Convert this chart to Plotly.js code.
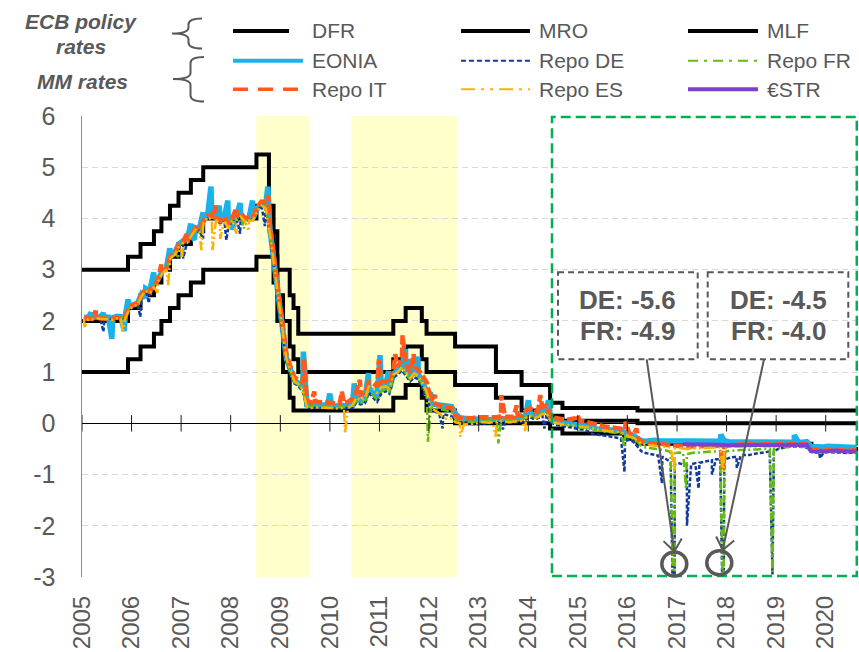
<!DOCTYPE html>
<html><head><meta charset="utf-8">
<script src="https://cdn.plot.ly/plotly-3.0.1.min.js"></script>
<style>html,body{margin:0;padding:0;background:#fff}#chart{width:859px;height:652px}</style>
</head><body><div id="chart"></div>
<script>
// ---------- ECB policy rates (change dates and levels, %) ----------
const dfrDates = ['2005-01-01','2005-12-06','2006-03-08','2006-06-15','2006-08-09','2006-10-11','2006-12-13','2007-03-14','2007-06-13','2008-07-09','2008-11-12','2008-12-10','2009-01-21','2009-03-11','2009-04-08','2011-04-13','2011-07-13','2011-11-09','2011-12-14','2012-07-11','2014-06-11','2014-09-10','2015-12-09','2016-03-16','2019-09-18','2020-08-31'];
const dfrVals  = [1.00,1.25,1.50,1.75,2.00,2.25,2.50,2.75,3.00,3.25,2.75,2.00,1.00,0.50,0.25,0.50,0.75,0.50,0.25,0.00,-0.10,-0.20,-0.30,-0.40,-0.50,-0.50];
const mroDates = ['2005-01-01','2005-12-06','2006-03-08','2006-06-15','2006-08-09','2006-10-11','2006-12-13','2007-03-14','2007-06-13','2008-07-09','2008-10-15','2008-11-12','2008-12-10','2009-01-21','2009-03-11','2009-04-08','2009-05-13','2011-04-13','2011-07-13','2011-11-09','2011-12-14','2012-07-11','2013-05-08','2013-11-13','2014-06-11','2014-09-10','2016-03-16','2020-08-31'];
const mroVals  = [2.00,2.25,2.50,2.75,3.00,3.25,3.50,3.75,4.00,4.25,3.75,3.25,2.50,2.00,1.50,1.25,1.00,1.25,1.50,1.25,1.00,0.75,0.50,0.25,0.15,0.05,0.00,0.00];
const mlfDates = ['2005-01-01','2005-12-06','2006-03-08','2006-06-15','2006-08-09','2006-10-11','2006-12-13','2007-03-14','2007-06-13','2008-07-09','2008-10-09','2008-11-12','2008-12-10','2009-03-11','2009-04-08','2009-05-13','2011-04-13','2011-07-13','2011-11-09','2011-12-14','2012-07-11','2013-05-08','2013-11-13','2014-06-11','2014-09-10','2016-03-16','2020-08-31'];
const mlfVals  = [3.00,3.25,3.50,3.75,4.00,4.25,4.50,4.75,5.00,5.25,4.25,3.75,3.00,2.50,2.25,1.75,2.00,2.25,2.00,1.75,1.50,1.00,0.75,0.40,0.30,0.25,0.25];

// ---------- Money-market rates: monthly readings (Jan 2005 - Aug 2020) ----------
const eoniaVals = [
 2.07,2.06,2.06,2.08,2.07,2.07,2.07,2.06,2.09,2.08,2.09,2.28,
 2.33,2.35,2.52,2.63,2.58,2.70,2.81,2.97,3.04,3.28,3.33,3.50,
 3.56,3.57,3.69,3.82,3.79,3.96,4.06,4.05,4.03,3.94,4.02,3.88,
 4.02,4.03,4.09,3.99,4.01,4.01,4.19,4.30,4.27,3.82,3.15,2.49,
 1.81,1.26,1.06,0.84,0.78,0.70,0.36,0.35,0.36,0.36,0.36,0.35,
 0.34,0.34,0.35,0.35,0.34,0.35,0.48,0.43,0.45,0.70,0.59,0.50,
 0.66,0.71,0.66,0.97,1.03,1.12,1.01,0.91,1.01,0.96,0.79,0.63,
 0.38,0.37,0.36,0.35,0.34,0.33,0.18,0.11,0.10,0.09,0.08,0.07,
 0.07,0.07,0.07,0.08,0.08,0.09,0.09,0.08,0.08,0.09,0.10,0.17,
 0.20,0.16,0.19,0.25,0.25,0.08,0.04,0.02,0.01,0.00,-0.01,-0.03,
 -0.05,-0.04,-0.05,-0.07,-0.11,-0.12,-0.12,-0.12,-0.14,-0.14,-0.13,-0.20,
 -0.24,-0.24,-0.29,-0.34,-0.35,-0.33,-0.33,-0.34,-0.34,-0.35,-0.35,-0.35,
 -0.36,-0.36,-0.35,-0.36,-0.36,-0.36,-0.36,-0.36,-0.36,-0.36,-0.35,-0.34,
 -0.36,-0.36,-0.36,-0.37,-0.36,-0.36,-0.36,-0.36,-0.37,-0.37,-0.36,-0.36,
 -0.37,-0.37,-0.37,-0.37,-0.37,-0.37,-0.37,-0.36,-0.45,-0.46,-0.45,-0.46,
 -0.45,-0.45,-0.45,-0.45,-0.46,-0.46,-0.46,-0.47];
const deVals = [
 2.05,2.04,2.03,2.05,2.04,2.04,2.05,2.03,2.06,2.05,2.06,2.24,
 2.30,2.32,2.49,2.60,2.55,2.67,2.78,2.94,3.01,3.25,3.30,3.46,
 3.53,3.54,3.66,3.79,3.76,3.93,4.03,4.00,3.98,3.90,3.97,3.82,
 3.98,3.99,4.05,3.95,3.97,3.97,4.15,4.26,4.20,3.70,3.05,2.40,
 1.75,1.20,1.00,0.78,0.72,0.62,0.30,0.30,0.31,0.31,0.31,0.30,
 0.29,0.29,0.30,0.30,0.29,0.30,0.40,0.37,0.39,0.60,0.50,0.42,
 0.58,0.63,0.58,0.90,0.95,1.03,0.93,0.82,0.90,0.86,0.68,0.50,
 0.25,0.22,0.20,0.18,0.16,0.14,0.02,0.00,-0.01,-0.01,-0.02,-0.02,
 -0.01,0.00,0.00,0.01,0.01,0.02,0.02,0.01,0.01,0.02,0.03,0.08,
 0.12,0.08,0.10,0.15,0.16,0.02,-0.02,-0.04,-0.06,-0.07,-0.08,-0.10,
 -0.12,-0.12,-0.15,-0.20,-0.22,-0.23,-0.24,-0.25,-0.27,-0.28,-0.30,-0.35,
 -0.32,-0.36,-0.45,-0.55,-0.58,-0.60,-0.62,-0.63,-0.65,-0.70,-0.76,-0.80,
 -0.78,-0.80,-0.82,-0.80,-0.78,-0.77,-0.75,-0.73,-0.72,-0.70,-0.70,-0.72,
 -0.68,-0.66,-0.65,-0.63,-0.62,-0.62,-0.60,-0.59,-0.58,-0.56,-0.55,-0.55,
 -0.50,-0.48,-0.46,-0.45,-0.45,-0.45,-0.46,-0.47,-0.56,-0.57,-0.57,-0.58,
 -0.56,-0.57,-0.57,-0.57,-0.58,-0.58,-0.57,-0.57];
const frVals = [
 2.06,2.05,2.05,2.07,2.06,2.06,2.06,2.05,2.08,2.07,2.08,2.25,
 2.31,2.33,2.50,2.61,2.56,2.68,2.79,2.95,3.02,3.26,3.31,3.47,
 3.54,3.55,3.67,3.80,3.77,3.94,4.04,4.02,4.00,3.92,3.99,3.85,
 4.00,4.01,4.07,3.97,3.99,3.99,4.17,4.28,4.23,3.75,3.10,2.44,
 1.78,1.22,1.03,0.80,0.75,0.66,0.33,0.32,0.33,0.33,0.33,0.32,
 0.31,0.31,0.32,0.32,0.31,0.32,0.44,0.40,0.42,0.65,0.55,0.46,
 0.62,0.67,0.62,0.93,0.99,1.07,0.97,0.86,0.96,0.91,0.74,0.57,
 0.32,0.30,0.28,0.26,0.25,0.23,0.08,0.04,0.03,0.03,0.02,0.02,
 0.03,0.04,0.04,0.05,0.05,0.06,0.06,0.05,0.05,0.06,0.07,0.12,
 0.16,0.12,0.15,0.20,0.21,0.05,0.01,-0.01,-0.02,-0.03,-0.04,-0.06,
 -0.08,-0.08,-0.09,-0.11,-0.14,-0.15,-0.16,-0.16,-0.18,-0.19,-0.20,-0.26,
 -0.28,-0.30,-0.36,-0.45,-0.47,-0.48,-0.49,-0.50,-0.51,-0.53,-0.56,-0.58,
 -0.57,-0.58,-0.60,-0.58,-0.57,-0.57,-0.56,-0.55,-0.55,-0.55,-0.54,-0.56,
 -0.54,-0.53,-0.53,-0.52,-0.52,-0.52,-0.51,-0.51,-0.50,-0.50,-0.50,-0.50,
 -0.48,-0.47,-0.46,-0.46,-0.45,-0.45,-0.46,-0.46,-0.55,-0.56,-0.56,-0.56,
 -0.55,-0.55,-0.56,-0.56,-0.56,-0.56,-0.56,-0.56];
const itVals = [
 2.05,2.05,2.04,2.06,2.05,2.05,2.06,2.04,2.07,2.06,2.08,2.26,
 2.32,2.34,2.51,2.62,2.57,2.69,2.80,2.96,3.03,3.27,3.32,3.49,
 3.55,3.56,3.68,3.81,3.78,3.95,4.05,4.06,4.02,3.95,4.03,3.90,
 4.03,4.04,4.10,4.00,4.02,4.03,4.22,4.33,4.32,3.90,3.25,2.55,
 1.90,1.35,1.12,0.90,0.85,0.80,0.45,0.40,0.42,0.42,0.40,0.40,
 0.40,0.38,0.40,0.40,0.42,0.48,0.62,0.55,0.60,0.80,0.78,0.72,
 0.80,0.82,0.78,1.05,1.10,1.25,1.15,1.00,1.10,1.05,0.92,0.80,
 0.45,0.38,0.35,0.33,0.32,0.30,0.15,0.10,0.10,0.09,0.10,0.12,
 0.12,0.12,0.10,0.11,0.12,0.14,0.13,0.12,0.13,0.15,0.16,0.25,
 0.30,0.22,0.25,0.32,0.35,0.12,0.10,0.08,0.08,0.07,0.08,0.10,
 0.05,0.04,0.02,0.00,-0.03,-0.05,-0.06,-0.07,-0.08,-0.08,-0.09,-0.12,
 -0.20,-0.22,-0.28,-0.36,-0.38,-0.38,-0.39,-0.40,-0.40,-0.42,-0.43,-0.45,
 -0.45,-0.45,-0.46,-0.45,-0.45,-0.44,-0.44,-0.44,-0.43,-0.44,-0.44,-0.46,
 -0.43,-0.42,-0.42,-0.42,-0.41,-0.40,-0.42,-0.41,-0.41,-0.41,-0.40,-0.42,
 -0.40,-0.40,-0.40,-0.40,-0.40,-0.40,-0.40,-0.41,-0.51,-0.52,-0.52,-0.52,
 -0.51,-0.51,-0.52,-0.52,-0.52,-0.53,-0.53,-0.53];
const esVals = [
 2.04,2.03,2.03,2.05,2.04,2.03,2.04,2.02,2.05,2.04,2.05,2.22,
 2.29,2.31,2.48,2.59,2.54,2.66,2.77,2.93,3.00,3.23,3.29,3.45,
 3.52,3.53,3.65,3.78,3.75,3.92,4.02,3.98,3.97,3.89,3.96,3.80,
 3.97,3.98,4.04,3.94,3.96,3.96,4.14,4.25,4.20,3.72,3.08,2.42,
 1.80,1.25,1.05,0.82,0.76,0.65,0.32,0.30,0.31,0.31,0.31,0.30,
 0.30,0.29,0.30,0.30,0.30,0.35,0.50,0.45,0.48,0.72,0.68,0.60,
 0.70,0.72,0.68,0.95,1.00,1.10,1.00,0.88,0.98,0.92,0.78,0.62,
 0.30,0.25,0.20,0.12,0.08,0.10,0.02,0.00,-0.02,-0.02,-0.01,0.00,
 0.02,0.02,0.01,0.02,0.03,0.04,0.03,0.02,0.03,0.04,0.05,0.10,
 0.15,0.10,0.12,0.18,0.20,0.04,0.01,-0.01,-0.02,-0.03,-0.04,-0.05,
 -0.06,-0.06,-0.07,-0.09,-0.12,-0.13,-0.14,-0.14,-0.16,-0.17,-0.18,-0.22,
 -0.26,-0.28,-0.33,-0.40,-0.42,-0.43,-0.44,-0.45,-0.45,-0.46,-0.47,-0.49,
 -0.48,-0.49,-0.50,-0.49,-0.49,-0.48,-0.48,-0.48,-0.47,-0.47,-0.47,-0.50,
 -0.46,-0.46,-0.46,-0.45,-0.45,-0.45,-0.45,-0.45,-0.44,-0.44,-0.44,-0.45,
 -0.43,-0.43,-0.43,-0.42,-0.42,-0.42,-0.42,-0.43,-0.52,-0.53,-0.53,-0.54,
 -0.53,-0.53,-0.53,-0.54,-0.54,-0.54,-0.55,-0.55];
// (pre-)€STR from Feb 2017
const estrStart = '2017-02-15';
const estrVals = [
 -0.41,-0.41,-0.42,-0.42,-0.42,-0.42,-0.42,-0.42,-0.42,-0.42,-0.43,
 -0.43,-0.42,-0.42,-0.42,-0.42,-0.42,-0.42,-0.42,-0.42,-0.42,-0.42,-0.43,
 -0.42,-0.42,-0.42,-0.42,-0.42,-0.42,-0.42,-0.42,-0.54,-0.55,-0.55,-0.55,
 -0.54,-0.54,-0.53,-0.54,-0.55,-0.55,-0.55,-0.55];

// ---------- Single-day spikes ----------
const eoniaSpikeDates = ['2005-03-08','2005-06-07','2005-08-09','2005-11-08','2005-12-06','2006-04-11','2006-06-13','2006-10-10','2007-03-13','2007-04-10','2007-06-12','2007-08-09','2007-10-09','2007-12-11','2008-01-15','2008-03-11','2008-06-10','2008-10-01','2009-06-20','2009-12-31','2010-06-30','2010-10-12','2011-01-05','2011-03-08','2011-07-12','2011-08-09','2011-10-11','2012-01-10','2014-01-02','2014-05-30','2017-11-20','2019-05-15'];
const eoniaSpikeVals  = [2.16,2.15,1.65,1.80,2.42,2.45,2.95,3.42,3.90,3.58,4.12,4.62,4.25,4.35,3.78,4.30,4.35,4.62,1.40,0.58,0.78,0.98,1.33,1.02,1.45,1.25,1.30,0.58,0.45,0.45,-0.22,-0.23];
const deSpikeDates = ['2005-06-08','2006-03-07','2006-05-09','2007-01-16','2007-06-12','2007-11-30','2008-03-11','2008-09-09','2012-04-10','2013-06-28','2014-04-30','2015-12-11','2016-09-12','2016-12-14','2017-03-15','2017-06-09','2017-09-15','2017-12-09','2018-03-17','2018-12-05','2019-11-20'];
const deSpikeVals  = [1.79,2.08,2.35,3.22,3.60,3.58,3.70,3.85,-0.10,-0.12,-0.10,-0.95,-1.17,-5.6,-2.0,-1.27,-1.0,-4.5,-0.87,-2.95,-0.68];
const frSpikeDates = ['2006-12-12','2008-04-08','2011-12-24','2013-05-26','2015-12-11','2016-12-14','2017-03-08','2017-12-09','2018-12-05'];
const frSpikeVals  = [3.25,3.80,-0.36,-0.39,-0.46,-4.9,-1.27,-4.0,-2.9];
const itSpikeDates = ['2005-04-12','2006-08-08','2007-02-13','2007-09-11','2008-02-12','2008-10-05','2009-06-25','2009-09-08','2010-03-30','2010-08-10','2010-12-28','2011-04-28','2011-06-20','2011-09-10','2012-02-14','2013-06-15','2013-10-08','2014-03-30','2014-12-31','2015-12-20','2016-03-10','2017-12-09'];
const itSpikeVals  = [2.20,3.10,3.70,4.25,4.20,4.45,1.25,0.62,0.62,0.85,1.25,1.35,1.72,1.35,0.55,0.55,0.35,0.55,0.16,0.03,-0.10,-0.90];
const esSpikeDates = ['2005-01-20','2005-10-29','2006-07-11','2006-09-27','2007-01-09','2007-05-30','2007-08-20','2007-10-16','2008-02-12','2008-05-13','2010-04-22','2012-08-17','2013-05-05','2013-12-10','2016-12-14','2017-12-09'];
const esSpikeVals  = [1.88,1.77,2.55,2.70,3.25,3.38,3.38,3.60,3.70,3.75,-0.20,-0.26,-0.26,-0.15,-0.95,-0.95];

// ---------- Labels ----------
const yearLabels = ['2005','2006','2007','2008','2009','2010','2011','2012','2013','2014','2015','2016','2017','2018','2019','2020'];
const yTickVals = [-3,-2,-1,0,1,2,3,4,5,6];
const yTickText = ['-3','-2','-1','0','1','2','3','4','5','6'];
const boxLabels = [['DE: -5.6','FR: -4.9'],['DE: -4.5','FR: -4.0']];

// ---------- Build ----------
const monthDates = [];
for (let y = 2005; y <= 2020; y++) for (let m = 1; m <= 12; m++) {
  if (y === 2020 && m > 8) break;
  monthDates.push(y + '-' + String(m).padStart(2,'0') + '-15');
}
function series(dates, vals, sd, sv) {
  const pts = dates.map((d,i)=>[d, vals[i]]);
  (sd||[]).forEach((d,i)=>pts.push([d, sv[i]]));
  pts.sort((a,b)=> a[0] < b[0] ? -1 : (a[0] > b[0] ? 1 : 0));
  return {x: pts.map(p=>p[0]), y: pts.map(p=>p[1])};
}
const GRAY = '#595959';
const FONT = 'Liberation Sans, Arial, sans-serif';
const C = {eonia:'#19B3E9', de:'#123C9C', fr:'#66BB11', it:'#FF5A1E', es:'#FFB300', estr:'#7E40CC'};
const styles = {
  dfr:{color:'#000', width:4}, mro:{color:'#000', width:4}, mlf:{color:'#000', width:4},
  eonia:{color:C.eonia, width:5.5}, de:{color:C.de, width:2.5, dash:'4px,2px'},
  fr:{color:C.fr, width:2.5, dash:'8px,3px,2px,3px'}, it:{color:C.it, width:4.5, dash:'10px,3px'},
  es:{color:C.es, width:2.5, dash:'12px,3px,2px,3px,2px,3px'}, estr:{color:C.estr, width:4}
};
function tr(s, st, shape) {
  return {type:'scatter', mode:'lines', x:s.x, y:s.y, line:Object.assign({shape: shape||'linear'}, st), hoverinfo:'skip', showlegend:false};
}
const estrDates = monthDates.slice(monthDates.indexOf(estrStart));
const traces = [
  tr({x:dfrDates, y:dfrVals}, styles.dfr, 'hv'),
  tr({x:mroDates, y:mroVals}, styles.mro, 'hv'),
  tr({x:mlfDates, y:mlfVals}, styles.mlf, 'hv'),
  tr(series(monthDates, eoniaVals, eoniaSpikeDates, eoniaSpikeVals), styles.eonia),
  tr(series(monthDates, deVals, deSpikeDates, deSpikeVals), styles.de),
  tr(series(monthDates, frVals, frSpikeDates, frSpikeVals), styles.fr),
  tr(series(monthDates, itVals, itSpikeDates, itSpikeVals), styles.it),
  tr(series(monthDates, esVals, esSpikeDates, esSpikeVals), styles.es),
  tr(series(estrDates, estrVals), styles.estr)
];

// pixel -> paper helpers for decorations
const PL = 82, PR = 858, PT = 116, PB = 577;
const PX = x => (x - PL) / (PR - PL);
const PY = y => (PB - y) / (PB - PT);
const shapes = [];
// crisis shading
[['2008-07-08','2009-07-31'],['2010-06-06','2012-07-27']].forEach(r => shapes.push({type:'rect', xref:'x', yref:'paper', x0:r[0], x1:r[1], y0:0, y1:1, fillcolor:'#FFFFCC', line:{width:0}, layer:'below'}));
// green dashed box
shapes.push({type:'rect', xref:'x', yref:'paper', x0:'2014-06-25', x1:'2020-08-17', y0:0.002, y1:0.998, line:{color:'#00B050', width:2.5, dash:'10px,5px'}, fillcolor:'rgba(0,0,0,0)'});
// cross ticks on the zero axis
yearLabels.forEach(y => shapes.push({type:'line', xref:'x', yref:'y', x0:y+'-01-01', x1:y+'-01-01', y0:-0.16, y1:0.16, line:{color:'#1a1a1a', width:1}}));
function pline(x0,y0,x1,y1,line){ return {type:'line', xref:'paper', yref:'paper', x0:PX(x0), y0:PY(y0), x1:PX(x1), y1:PY(y1), line:line}; }
// legend samples
const legendItems = [
  ['DFR','dfr',233,289,310,31],['EONIA','eonia',233,303,310,60.7],['Repo IT','it',233,301,310,89.3],
  ['MRO','mro',461,530,537,31],['Repo DE','de',461,530,537,60.7],['Repo ES','es',461,530,537,89.3],
  ['MLF','mlf',688,758,765,31],['Repo FR','fr',688,758,765,60.7],['€STR','estr',688,758,765,89.3]
];
const legendStyle = {
  eonia:{color:C.eonia, width:4}, it:{color:C.it, width:3.5, dash:'15px,10px'}, de:{color:C.de, width:2, dash:'5px,3px'},
  fr:{color:C.fr, width:2, dash:'10px,6px,3px,6px'}, es:{color:C.es, width:2, dash:'14px,6px,3px,6px,3px,6px'}
};
legendItems.forEach(it => {
  const st = legendStyle[it[1]] || styles[it[1]];
  shapes.push(pline(it[2], it[5], it[3], it[5], st));
});
// braces
function brace(xEnd, xBar, xTip, yTop, yTip, yBot) {
  const r = 6;
  const P = (x,y) => PX(x).toFixed(5) + ',' + PY(y).toFixed(5);
  return 'M' + P(xEnd,yTop) + ' Q' + P(xBar,yTop) + ' ' + P(xBar,yTop+r) +
    ' L' + P(xBar,yTip-r) + ' Q' + P(xBar,yTip) + ' ' + P(xTip,yTip) +
    ' Q' + P(xBar,yTip) + ' ' + P(xBar,yTip+r) + ' L' + P(xBar,yBot-r) +
    ' Q' + P(xBar,yBot) + ' ' + P(xEnd,yBot);
}
shapes.push({type:'path', xref:'paper', yref:'paper', path:brace(202,188.5,172,18.5,33.5,48.5), line:{color:GRAY, width:2}});
shapes.push({type:'path', xref:'paper', yref:'paper', path:brace(204,190.5,173,57,79,101.5), line:{color:GRAY, width:2}});
// annotation boxes
const boxes = [[558,272.3,697.7,359.3],[707.7,272.3,848.3,359.3]];
boxes.forEach(b => shapes.push({type:'rect', xref:'paper', yref:'paper', x0:PX(b[0]), y0:PY(b[1]), x1:PX(b[2]), y1:PY(b[3]), line:{color:GRAY, width:2, dash:'6px,4px'}, fillcolor:'rgba(255,255,255,0)'}));
// arrows
function arrow(sx, sy, tx, ty) {
  const dx = sx - tx, dy = sy - ty, L = Math.hypot(dx, dy), ux = dx/L, uy = dy/L;
  const a = 38*Math.PI/180, len = 15, ln = {color:GRAY, width:2};
  const b1x = tx + len*(ux*Math.cos(a) - uy*Math.sin(a)), b1y = ty + len*(ux*Math.sin(a) + uy*Math.cos(a));
  const b2x = tx + len*(ux*Math.cos(a) + uy*Math.sin(a)), b2y = ty + len*(-ux*Math.sin(a) + uy*Math.cos(a));
  shapes.push(pline(sx,sy,tx,ty,ln), pline(b1x,b1y,tx,ty,ln), pline(b2x,b2y,tx,ty,ln));
}
arrow(646.7,359.3,674.3,551.5);
arrow(764,359.3,722.7,550);
// circles
[[674.3,564],[719.3,562.7]].forEach(c => shapes.push({type:'circle', xref:'paper', yref:'paper', x0:PX(c[0]-12.5), x1:PX(c[0]+12.5), y0:PY(c[1]+12), y1:PY(c[1]-12), line:{color:GRAY, width:3.5}}));

const annotations = [];
function ann(text, x, y, size, anchor, extra) {
  annotations.push(Object.assign({text:text, xref:'paper', yref:'paper', x:PX(x), y:PY(y), xanchor:anchor||'left', yanchor:'middle', showarrow:false, font:{family:FONT, size:size, color:GRAY}}, extra||{}));
}
ann('<b><i>ECB policy</i></b>', 81, 21.5, 21, 'center');
ann('<b><i>rates</i></b>', 81, 46.5, 21, 'center');
ann('<b><i>MM rates</i></b>', 82.5, 81.5, 21, 'center');
legendItems.forEach(it => ann(it[0], it[4], it[5], 21, 'left'));
boxLabels.forEach((lbl, i) => {
  const cx = (boxes[i][0] + boxes[i][2]) / 2;
  ann('<b>' + lbl[0] + '</b>', cx, 299.5, 26, 'center');
  ann('<b>' + lbl[1] + '</b>', cx, 330.5, 26, 'center');
});

const layout = {
  width:859, height:652, margin:{l:PL, r:859-PR, t:PT, b:652-PB},
  paper_bgcolor:'#fff', plot_bgcolor:'#fff',
  font:{family:FONT, color:GRAY},
  showlegend:false,
  xaxis:{type:'date', range:['2005-01-01','2020-08-26'], tickvals:yearLabels.map(y=>y+'-01-01'), ticktext:yearLabels,
    tickangle:-90, showgrid:false, zeroline:false, showline:false, ticks:'', ticklabelstandoff:13,
    tickfont:{family:FONT, size:24, color:GRAY}},
  yaxis:{range:[-3,6], tickvals:yTickVals, ticktext:yTickText, showgrid:true, gridcolor:'#D9D9D9', griddash:'6px,4px', gridwidth:1,
    zeroline:true, zerolinecolor:'#000', zerolinewidth:1, showline:true, linecolor:'#8C8C8C', linewidth:1.5,
    ticks:'', ticklabelstandoff:20, tickfont:{family:FONT, size:25, color:GRAY}},
  shapes:shapes, annotations:annotations
};
Plotly.newPlot('chart', traces, layout, {staticPlot:true, displayModeBar:false});
</script></body></html>
